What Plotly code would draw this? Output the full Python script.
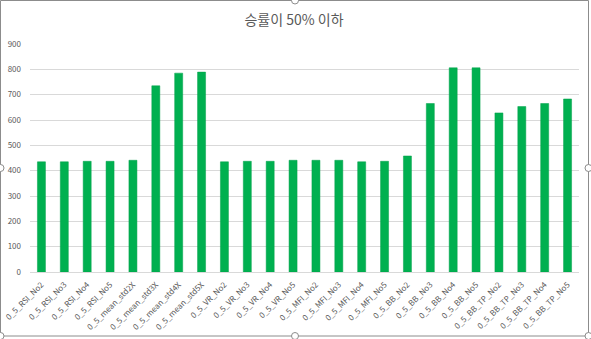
import plotly.graph_objects as go

categories = [
    "0_5_RSI_No2", "0_5_RSI_No3", "0_5_RSI_No4", "0_5_RSI_No5",
    "0_5_mean_std2X", "0_5_mean_std3X", "0_5_mean_std4X", "0_5_mean_std5X",
    "0_5_VR_No2", "0_5_VR_No3", "0_5_VR_No4", "0_5_VR_No5",
    "0_5_MFI_No2", "0_5_MFI_No3", "0_5_MFI_No4", "0_5_MFI_No5",
    "0_5_BB_No2", "0_5_BB_No3", "0_5_BB_No4", "0_5_BB_No5",
    "0_5_BB_TP_No2", "0_5_BB_TP_No3", "0_5_BB_TP_No4", "0_5_BB_TP_No5",
]
values = [
    435, 435, 437, 437,
    441, 735, 785, 789,
    435, 437, 437, 441,
    441, 441, 435, 437,
    458, 665, 806, 806,
    628, 653, 665, 683,
]
y_ticks = [0, 100, 200, 300, 400, 500, 600, 700, 800, 900]
title_text = "승률이 50% 이하"

W, H = 591, 339
ML, MR, MT, MB = 30, 12, 44, 67
PW, PH = W - ML - MR, H - MT - MB


def px(x):
    return (x - ML) / PW


def py(y):
    return (H - MB - y) / PH


fig = go.Figure(
    go.Bar(
        x=categories,
        y=values,
        marker=dict(color="#00B050", line=dict(color="#00A04A", width=0.5)),
    )
)

shapes = [
    dict(type="rect", xref="paper", yref="paper",
         x0=px(0.5), x1=px(588.5), y0=py(0.5), y1=py(336),
         line=dict(color="#8C8C8C", width=1), fillcolor="rgba(0,0,0,0)",
         layer="below"),
]
r = 3.5
for cx, cy in [(295, 0.5), (0.5, 168), (588.5, 168),
               (0.5, 336), (295, 336), (588.5, 336)]:
    shapes.append(dict(type="circle", xref="paper", yref="paper",
                       x0=px(cx - r), x1=px(cx + r), y0=py(cy + r), y1=py(cy - r),
                       line=dict(color="#8C8C8C", width=1), fillcolor="white"))

fig.update_layout(
    width=W, height=H,
    margin=dict(l=ML, r=MR, t=MT, b=MB, pad=0),
    paper_bgcolor="white", plot_bgcolor="white",
    bargap=0.65,
    showlegend=False,
    title=dict(text=title_text, x=px(294), xref="paper", xanchor="center",
               y=1 - 20 / H, yanchor="middle",
               font=dict(family="Noto Sans CJK KR", size=14, color="#595959")),
    font=dict(family="Noto Sans CJK KR", size=8, color="#595959"),
    xaxis=dict(tickangle=-45, showgrid=False, showline=True, automargin=False,
               linecolor="#D9D9D9", linewidth=1, ticks="",
               ticklabelstandoff=4,
               tickfont=dict(size=8, color="#595959")),
    yaxis=dict(range=[0, 900], tickvals=y_ticks, showgrid=True, automargin=False,
               gridcolor="#D9D9D9", gridwidth=1, zeroline=False,
               showline=False, ticks="", ticklabelstandoff=8,
               tickfont=dict(size=8, color="#595959")),
    shapes=shapes,
)

fig.write_html("out.html")
